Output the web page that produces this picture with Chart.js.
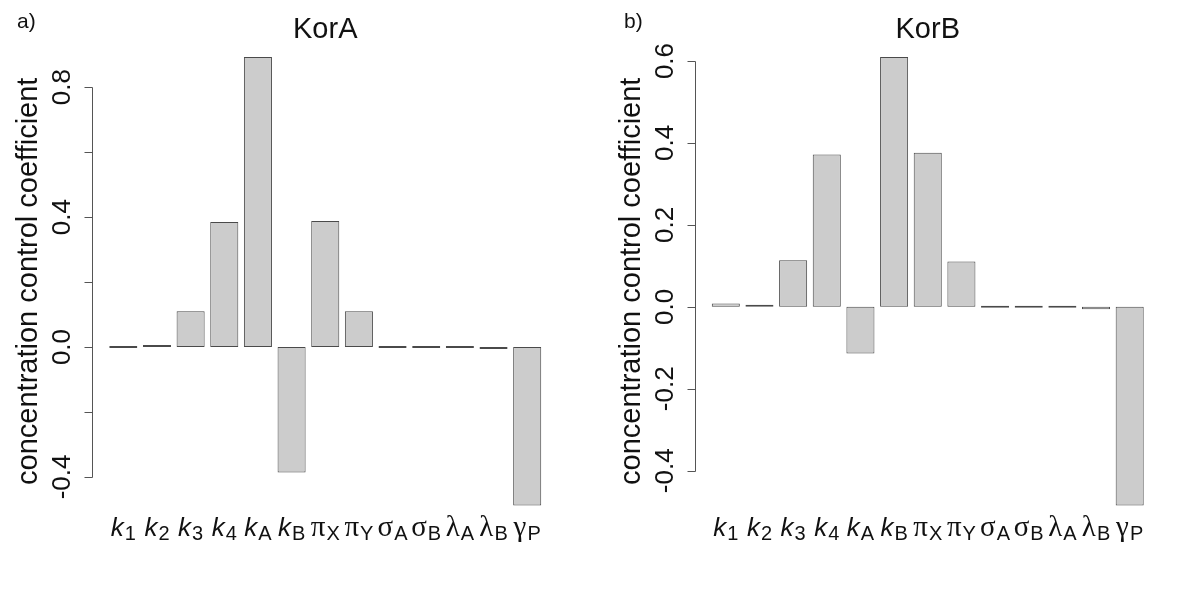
<!DOCTYPE html>
<html>
<head>
<meta charset="utf-8">
<script src="https://cdn.jsdelivr.net/npm/chart.js@4.4.1/dist/chart.umd.min.js"></script>
<style>
  html, body { margin: 0; padding: 0; background: #fff; }
  #wrap { position: relative; width: 1200px; height: 598px; overflow: hidden; }
  #wrap canvas { position: absolute; top: 0; }
</style>
</head>
<body>
<div id="wrap">
  <canvas id="korA" width="600" height="598" style="left:0"></canvas>
  <canvas id="korB" width="600" height="598" style="left:600px"></canvas>
</div>
<script>
// parametres (lettre + indice)
const parMain = ['k', 'k', 'k', 'k', 'k', 'k', 'π', 'π', 'σ', 'σ', 'λ', 'λ', 'γ'];
const parSub  = ['1', '2', '3', '4', 'A', 'B', 'X', 'Y', 'A', 'B', 'A', 'B', 'P'];

// coefficients
const korA = [0, 0.004, 0.11, 0.385, 0.893, -0.386, 0.388, 0.11, 0, 0, 0, -0.003, -0.488];
const korB = [0.008, 0.003, 0.114, 0.372, -0.114, 0.610, 0.376, 0.111, 0, 0, 0, -0.006, -0.485];

// graduations de l'axe y
const ticksA = [-0.4, -0.2, 0, 0.2, 0.4, 0.6, 0.8];
const tickLabelsA = ['-0.4', '', '0.0', '', '0.4', '', '0.8'];
const ticksB = [-0.4, -0.2, 0, 0.2, 0.4, 0.6];
const tickLabelsB = ['-0.4', '-0.2', '0.0', '0.2', '0.4', '0.6'];

const FONT = '"Liberation Sans", Arial, Helvetica, sans-serif';
const GREEK = '"Liberation Serif", "DejaVu Serif", serif';

// comme barplot() de R : largeur 1, espace 0.2, marge de 4 %
function extend(lo, hi) {
  const d = (hi - lo) * 0.04;
  return [lo - d, hi + d];
}
const n = parMain.length;
const xlim = extend(0.2, 0.2 + 1.2 * n - 0.2);

// axes et textes a la maniere de R
const rAxes = {
  id: 'rAxes',
  afterDatasetsDraw(chart, args, opts) {
    const ctx = chart.ctx;
    const { left, right, top, bottom } = chart.chartArea;
    const ys = chart.scales.y;
    ctx.save();

    // ligne de l'axe + petits traits
    const ax = Math.round(left) + 0.5;
    ctx.strokeStyle = '#555';
    ctx.lineWidth = 1;
    ctx.beginPath();
    ctx.moveTo(ax, Math.round(ys.getPixelForValue(opts.ticks[0])) + 0.5);
    ctx.lineTo(ax, Math.round(ys.getPixelForValue(opts.ticks[opts.ticks.length - 1])) + 0.5);
    opts.ticks.forEach(t => {
      const py = Math.round(ys.getPixelForValue(t)) + 0.5;
      ctx.moveTo(ax, py);
      ctx.lineTo(ax - 8, py);
    });
    ctx.stroke();

    // etiquettes tournees
    ctx.fillStyle = '#111';
    ctx.textAlign = 'center';
    ctx.textBaseline = 'alphabetic';
    ctx.font = '26px ' + FONT;
    opts.ticks.forEach((t, i) => {
      if (!opts.labels[i]) return;
      ctx.save();
      ctx.translate(left - 22, ys.getPixelForValue(t));
      ctx.rotate(-Math.PI / 2);
      ctx.fillText(opts.labels[i], 0, 0);
      ctx.restore();
    });

    // titre de l'axe y
    ctx.font = '29px ' + FONT;
    ctx.save();
    ctx.translate(left - 55, (top + bottom) / 2);
    ctx.rotate(-Math.PI / 2);
    ctx.fillText('concentration control coefficient', 0, 0);
    ctx.restore();

    // titre du graphique
    ctx.fillText(opts.title, (left + right) / 2, top - 1);

    // lettre du panneau
    ctx.textAlign = 'left';
    ctx.font = '21px ' + FONT;
    ctx.fillText(opts.panel, opts.panelX, 28);

    // noms des barres avec indices (grec en police symbole)
    const base = bottom + 12.5;
    chart.getDatasetMeta(0).data.forEach((bar, i) => {
      const isK = parMain[i] === 'k';
      const mainFont = isK ? 'italic 26px ' + FONT : '29px ' + GREEK;
      const subFont = '20px ' + FONT;
      ctx.font = mainFont;
      const w1 = ctx.measureText(parMain[i]).width;
      ctx.font = subFont;
      const w2 = ctx.measureText(parSub[i]).width;
      const x0 = bar.x - (w1 + w2 + 1) / 2;
      ctx.font = mainFont;
      ctx.fillText(parMain[i], x0, base);
      ctx.font = subFont;
      ctx.fillText(parSub[i], x0 + w1 + 1, base + 4);
    });

    ctx.restore();
  }
};

function makeChart(id, values, ticks, labels, title, panel, panelX, padLeft, padRight) {
  const ylim = extend(Math.min(...values), Math.max(...values));
  new Chart(document.getElementById(id), {
    type: 'bar',
    data: {
      datasets: [{
        data: values.map((v, i) => ({ x: 0.7 + 1.2 * i, y: v })),
        backgroundColor: '#cccccc',
        borderColor: '#4a4a4a',
        borderWidth: 1,
        borderSkipped: false,
        inflateAmount: 0,
        minBarLength: 2,
        categoryPercentage: 1,
        barPercentage: 1 / 1.2
      }]
    },
    options: {
      responsive: false,
      animation: false,
      layout: { padding: { left: padLeft, right: padRight, top: 39, bottom: 74.5 } },
      plugins: {
        legend: { display: false },
        tooltip: { enabled: false },
        rAxes: { ticks: ticks, labels: labels, title: title, panel: panel, panelX: panelX }
      },
      scales: {
        x: { type: 'linear', display: false, offset: false, min: xlim[0], max: xlim[1] },
        y: { type: 'linear', display: false, min: ylim[0], max: ylim[1] }
      }
    },
    plugins: [rAxes]
  });
}

makeChart('korA', korA, ticksA, tickLabelsA, 'KorA', 'a)', 17, 92, 41.5);
makeChart('korB', korB, ticksB, tickLabelsB, 'KorB', 'b)', 24, 94.5, 39);
</script>
</body>
</html>
